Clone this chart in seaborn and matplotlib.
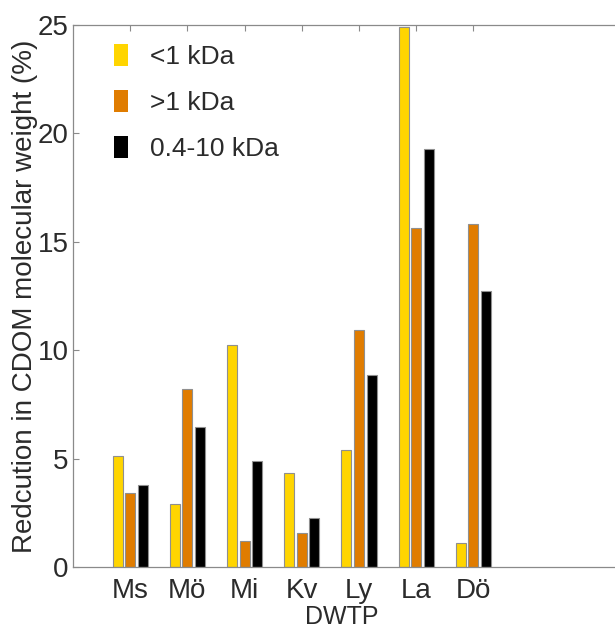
import matplotlib
matplotlib.use("Agg")
import matplotlib.pyplot as plt
import pandas as pd
import seaborn as sns

plants = ["Ms", "Mö", "Mi", "Kv", "Ly", "La", "Dö"]
below_1kda = [5.1, 2.9, 10.25, 4.35, 5.4, 24.9, 1.1]
above_1kda = [3.4, 8.2, 1.2, 1.55, 10.95, 15.65, 15.8]
range_04_10kda = [3.8, 6.45, 4.9, 2.25, 8.85, 19.3, 12.75]
size_classes = ["<1 kDa", ">1 kDa", "0.4-10 kDa"]
colors = ["#FFD500", "#E07C00", "#000000"]

df = pd.DataFrame({
    "DWTP": plants * 3,
    "value": below_1kda + above_1kda + range_04_10kda,
    "size": [s for s in size_classes for _ in plants],
})

sns.set_style("white")
plt.rcParams["font.family"] = ["Liberation Sans", "DejaVu Sans"]
text_col = "#2b2b2b"
axis_col = "#8a8a8a"

fig = plt.figure(figsize=(6.15, 6.28), dpi=100)
ax = fig.add_axes([73 / 615, 61 / 628, 572 / 615, 542 / 628])

sns.barplot(data=df, x="DWTP", y="value", hue="size", hue_order=size_classes,
            palette=colors, saturation=1, width=0.66, gap=0.2,
            edgecolor="#8f8f8f", linewidth=0.8, ax=ax)

ax.set_xlim(-1, 9)
ax.set_ylim(0, 25)
ax.set_yticks([0, 5, 10, 15, 20, 25])
ax.set_xticks(range(len(plants)))
ax.set_xticklabels(plants)
ax.tick_params(axis="both", direction="in", length=4, width=0.8, color=axis_col,
               labelsize=20, labelcolor=text_col, top=True, right=True,
               bottom=True, left=True, pad=3)
ax.tick_params(axis="x", pad=8)
for side in ["top", "bottom", "left", "right"]:
    ax.spines[side].set_visible(True)
    ax.spines[side].set_color(axis_col)
    ax.spines[side].set_linewidth(0.9)

# axis titles
ax.set_xlabel("DWTP", fontsize=18, color=text_col)
ax.xaxis.set_label_coords(0.47, -0.071)
ax.set_ylabel("Redcution in CDOM molecular weight (%)", fontsize=20,
              color=text_col, labelpad=0)

leg = ax.legend(loc="upper left", bbox_to_anchor=(0.031, 1.008), frameon=False,
                fontsize=19, handlelength=0.5, handleheight=0.87,
                handletextpad=0.85, labelspacing=0.8, labelcolor=text_col)
for h in leg.legend_handles:
    h.set_edgecolor("none")

fig.savefig("out.png", dpi=100)
